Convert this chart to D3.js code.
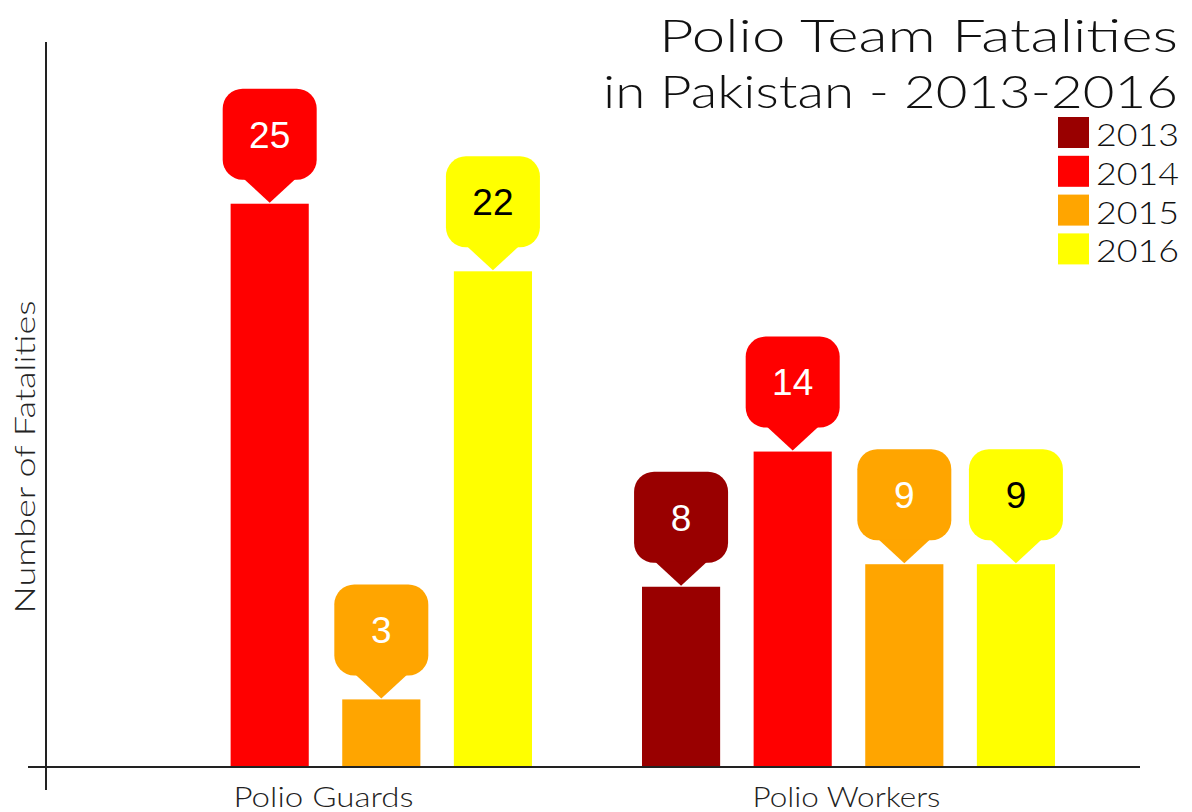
<!DOCTYPE html>
<html>
<head>
<meta charset="utf-8">
<script src="https://cdn.jsdelivr.net/npm/d3@7"></script>
<style>
  body { margin: 0; background: #fff; }
  svg { display: block; }
</style>
</head>
<body>
<div id="chart"></div>
<script>
// data
const groups = ['Polio Guards', 'Polio Workers'];
const years = ['2013', '2014', '2015', '2016'];
const guardValues = [null, 25, 3, 22];
const workerValues = [8, 14, 9, 9];
const yearColors = ['#990000', '#ff0000', '#ffa500', '#ffff00'];
const labelColors = ['#fff', '#fff', '#fff', '#000'];
const titleLines = ['Polio Team Fatalities', 'in Pakistan - 2013-2016'];

let width = 1192,
    height = 812,
    axisFont = 'Lato, "Noto Sans", sans-serif';

let svg = d3.select('#chart').append('svg')
    .attr('width', width)
    .attr('height', height);

let rows = [];
groups.forEach((g, gi) => {
    let vals = gi === 0 ? guardValues : workerValues;
    years.forEach((y, yi) => {
        if (vals[yi] != null) rows.push({group: g, year: y, value: vals[yi], yi: yi});
    });
});

let x0 = d3.scaleBand()
    .domain(groups)
    .range([62, 1108]);

let x1 = d3.scaleBand()
    .domain(years)
    .range([57, 470])
    .paddingInner(0.3);

let yScale = d3.scaleLinear()
    .domain([0, 32])
    .range([767, 46]);

// bars
svg.append('g').selectAll('rect')
    .data(rows)
    .join('rect')
    .attr('x', d => x0(d.group) + x1(d.year))
    .attr('y', d => yScale(d.value))
    .attr('width', x1.bandwidth())
    .attr('height', d => yScale(0) - yScale(d.value))
    .attr('fill', d => yearColors[d.yi]);

// callouts
let boxW = 94, boxH = 91, tipH = 24, tipHalf = 26, r = 20;
let callout = svg.append('g').selectAll('g')
    .data(rows)
    .join('g')
    .attr('transform', d => `translate(${x0(d.group) + x1(d.year) + x1.bandwidth() / 2}, ${yScale(d.value)})`);

callout.append('rect')
    .attr('x', -boxW / 2)
    .attr('y', -tipH - boxH)
    .attr('width', boxW)
    .attr('height', boxH)
    .attr('rx', r)
    .attr('fill', d => yearColors[d.yi]);

callout.append('path')
    .attr('d', `M${-tipHalf},${-tipH - 1}L0,-1L${tipHalf},${-tipH - 1}Z`)
    .attr('fill', d => yearColors[d.yi]);

callout.append('text')
    .attr('y', -tipH - boxH / 2)
    .attr('dy', '0.36em')
    .attr('text-anchor', 'middle')
    .style('font-family', '"Liberation Sans", Arial, sans-serif')
    .style('font-size', '37px')
    .attr('fill', d => labelColors[d.yi])
    .text(d => d.value);

// axes
svg.append('line')
    .attr('x1', 46).attr('x2', 46)
    .attr('y1', 42).attr('y2', 790)
    .attr('stroke', '#222').attr('stroke-width', 2);

svg.append('line')
    .attr('x1', 28).attr('x2', 1140)
    .attr('y1', yScale(0)).attr('y2', yScale(0))
    .attr('stroke', '#222').attr('stroke-width', 2);

svg.append('g').selectAll('text')
    .data(groups)
    .join('text')
    .attr('x', d => x0(d) + x0.bandwidth() / 2)
    .attr('y', 807)
    .attr('text-anchor', 'middle')
    .style('font-family', axisFont)
    .style('font-size', '28px')
    .style('font-weight', 300)
    .attr('fill', '#222')
    .attr('textLength', (d, i) => i === 0 ? 180 : 188)
    .attr('lengthAdjust', 'spacingAndGlyphs')
    .text(d => d);

svg.append('text')
    .attr('transform', 'translate(35, 457) rotate(-90)')
    .attr('text-anchor', 'middle')
    .style('font-family', axisFont)
    .style('font-size', '27px')
    .style('font-weight', 300)
    .attr('fill', '#222')
    .attr('textLength', 313)
    .attr('lengthAdjust', 'spacingAndGlyphs')
    .text('Number of Fatalities');

// title
svg.append('g').selectAll('text')
    .data(titleLines)
    .join('text')
    .attr('x', 1178)
    .attr('y', (d, i) => 52 + i * 56)
    .attr('text-anchor', 'end')
    .style('font-family', axisFont)
    .style('font-size', '46px')
    .style('font-weight', 300)
    .attr('fill', '#111')
    .attr('textLength', (d, i) => i === 0 ? 519 : 575)
    .attr('lengthAdjust', 'spacingAndGlyphs')
    .text(d => d);

// legend
let legend = svg.append('g').selectAll('g')
    .data(years)
    .join('g')
    .attr('transform', (d, i) => `translate(1058, ${117 + i * 38.8})`);

legend.append('rect')
    .attr('width', 31)
    .attr('height', 31)
    .attr('fill', (d, i) => yearColors[i]);

legend.append('text')
    .attr('x', 38)
    .attr('y', 29)
    .style('font-family', axisFont)
    .style('font-size', '32px')
    .style('font-weight', 300)
    .attr('fill', '#111')
    .attr('textLength', 83)
    .attr('lengthAdjust', 'spacingAndGlyphs')
    .text(d => d);
</script>
</body>
</html>
